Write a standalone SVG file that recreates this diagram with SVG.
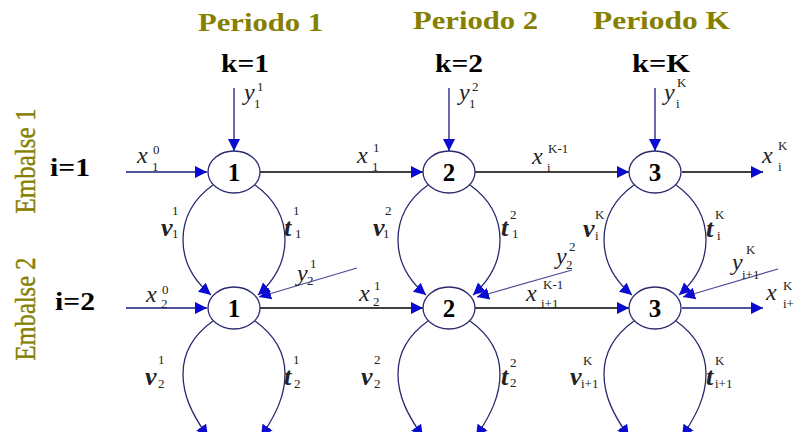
<svg xmlns="http://www.w3.org/2000/svg" width="798" height="432" viewBox="0 0 798 432">
<defs>
<marker id="ah" viewBox="0 0 10 10" refX="10" refY="5" markerUnits="userSpaceOnUse" markerWidth="12" markerHeight="15" orient="auto">
<path d="M0,0 L10,5 L0,10 z" fill="#0a0ad0"/>
</marker>
<style>
.title{font-family:"Liberation Serif",serif;font-weight:bold;font-size:26px;fill:#858000}
.emb{font-family:"Liberation Serif",serif;font-size:30px;fill:#858000;stroke:#858000;stroke-width:0.4}
.k{font-family:"Liberation Serif",serif;font-weight:bold;font-size:25px;fill:#000}
.nl{font-family:"Liberation Serif",serif;font-weight:bold;font-size:25px;fill:#000;text-anchor:middle}
.m{font-family:"Liberation Serif",serif;font-style:italic;font-size:24px;fill:#222}
.mb{font-family:"Liberation Serif",serif;font-style:italic;font-weight:bold;font-size:26px;fill:#222}
.s{font-family:"Liberation Serif",serif;font-style:normal;font-weight:normal;font-size:13px;fill:#222}
.node{fill:#fff;stroke:#2a2a70;stroke-width:1.3}
.loop{fill:none;stroke:#2a2a70;stroke-width:1.3;marker-end:url(#ah)}
.hb{fill:none;stroke:#000;stroke-width:1.3;marker-end:url(#ah)}
.hn{fill:none;stroke:#1a1a80;stroke-width:1.3;marker-end:url(#ah)}
.dg{fill:none;stroke:#4a4a98;stroke-width:1.2;marker-end:url(#ah)}
</style>
</defs>
<rect width="798" height="432" fill="#fff"/>

<g id="headers">
<text class="title" x="198" y="31" textLength="125" lengthAdjust="spacingAndGlyphs">Periodo 1</text>
<text class="title" x="413" y="29" textLength="125" lengthAdjust="spacingAndGlyphs">Periodo 2</text>
<text class="title" x="593" y="29" textLength="137" lengthAdjust="spacingAndGlyphs">Periodo K</text>
<text class="k" x="221" y="72" textLength="48" lengthAdjust="spacingAndGlyphs">k=1</text>
<text class="k" x="435" y="72" textLength="48" lengthAdjust="spacingAndGlyphs">k=2</text>
<text class="k" x="632" y="72" textLength="58" lengthAdjust="spacingAndGlyphs">k=K</text>
<text class="k" x="50" y="176" textLength="40" lengthAdjust="spacingAndGlyphs">i=1</text>
<text class="k" x="55" y="310" textLength="40" lengthAdjust="spacingAndGlyphs">i=2</text>
<text class="emb" transform="translate(35,161) rotate(-90)" text-anchor="middle" textLength="105" lengthAdjust="spacingAndGlyphs">Embalse 1</text>
<text class="emb" transform="translate(35,309) rotate(-90)" text-anchor="middle" textLength="103" lengthAdjust="spacingAndGlyphs">Embalse 2</text>
</g>

<g id="connectors">
<path class="hn" d="M234,88 L234,151"/>
<path class="hn" d="M449,88 L449,151"/>
<path class="hn" d="M655,88 L655,151"/>
<path class="hn" d="M126,172 L207,172"/>
<path class="hb" d="M260,172 L423,172"/>
<path class="hb" d="M475,172 L629,172"/>
<path class="hb" d="M682,172 L763,172"/>
<path class="hn" d="M126,308 L207,308"/>
<path class="hb" d="M260,308 L423,308"/>
<path class="hb" d="M475,308 L629,308"/>
<path class="hn" d="M682,308 L763,308"/>
<path class="dg" d="M357,268 L259,297"/>
<path class="dg" d="M572,270 L477,297"/>
<path class="dg" d="M778,269 L683,297"/>
<path class="loop" d="M213,185 C192,200 183,220 183,240 C183,262 192,279 211,295"/>
<path class="loop" d="M255,185 C276,200 285,220 285,240 C285,262 276,279 258,295"/>
<path class="loop" d="M213,321 C192,336 183,354 183,374 C183,396 192,414 208,437"/>
<path class="loop" d="M255,321 C276,336 285,354 285,374 C285,396 276,414 261,437"/>
<path class="loop" d="M428,185 C407,200 398,220 398,240 C398,262 407,279 426,295"/>
<path class="loop" d="M470,185 C491,200 500,220 500,240 C500,262 491,279 473,295"/>
<path class="loop" d="M428,321 C407,336 398,354 398,374 C398,396 407,414 423,437"/>
<path class="loop" d="M470,321 C491,336 500,354 500,374 C500,396 491,414 476,437"/>
<path class="loop" d="M634,185 C613,200 604,220 604,240 C604,262 613,279 632,295"/>
<path class="loop" d="M676,185 C697,200 706,220 706,240 C706,262 697,279 679,295"/>
<path class="loop" d="M634,321 C613,336 604,354 604,374 C604,396 613,414 629,437"/>
<path class="loop" d="M676,321 C697,336 706,354 706,374 C706,396 697,414 682,437"/>
</g>

<g id="node-1-1"><ellipse class="node" cx="234" cy="172" rx="26" ry="21"/><text class="nl" x="234" y="181">1</text></g>
<g id="node-1-2"><ellipse class="node" cx="449" cy="172" rx="26" ry="21"/><text class="nl" x="449" y="181">2</text></g>
<g id="node-1-3"><ellipse class="node" cx="655" cy="172" rx="26" ry="21"/><text class="nl" x="655" y="181">3</text></g>
<g id="node-2-1"><ellipse class="node" cx="234" cy="308" rx="26" ry="21"/><text class="nl" x="234" y="317">1</text></g>
<g id="node-2-2"><ellipse class="node" cx="449" cy="308" rx="26" ry="21"/><text class="nl" x="449" y="317">2</text></g>
<g id="node-2-3"><ellipse class="node" cx="655" cy="308" rx="26" ry="21"/><text class="nl" x="655" y="317">3</text></g>

<g id="labels">
<text class="m" x="244" y="100">y<tspan class="s" x="257" y="91">1</tspan><tspan class="s" x="254" y="108">1</tspan></text>
<text class="m" x="459" y="100">y<tspan class="s" x="472" y="91">2</tspan><tspan class="s" x="469" y="108">1</tspan></text>
<text class="m" x="664" y="100">y<tspan class="s" x="677" y="87">K</tspan><tspan class="s" x="676" y="108">i</tspan></text>

<text class="m" x="137" y="163">x<tspan class="s" x="153" y="154">0</tspan><tspan class="s" x="152" y="171">1</tspan></text>
<text class="m" x="357" y="163">x<tspan class="s" x="373" y="152">1</tspan><tspan class="s" x="372" y="171">1</tspan></text>
<text class="m" x="532" y="164">x<tspan class="s" x="548" y="153">K-1</tspan><tspan class="s" x="547" y="172">i</tspan></text>
<text class="m" x="762" y="163">x<tspan class="s" x="778" y="150">K</tspan><tspan class="s" x="778" y="171">i</tspan></text>

<text class="mb" x="161" y="236">v<tspan class="s" x="172" y="215">1</tspan><tspan class="s" x="172" y="238">1</tspan></text>
<text class="mb" x="284" y="236">t<tspan class="s" x="293" y="215">1</tspan><tspan class="s" x="295" y="238">1</tspan></text>
<text class="mb" x="373" y="236">v<tspan class="s" x="385" y="215">2</tspan><tspan class="s" x="383" y="238">1</tspan></text>
<text class="mb" x="501" y="236">t<tspan class="s" x="510" y="219">2</tspan><tspan class="s" x="512" y="238">1</tspan></text>
<text class="mb" x="583" y="237">v<tspan class="s" x="595" y="219">K</tspan><tspan class="s" x="595" y="240">i</tspan></text>
<text class="mb" x="706" y="237">t<tspan class="s" x="715" y="219">K</tspan><tspan class="s" x="717" y="240">i</tspan></text>

<text class="m" x="297" y="281">y<tspan class="s" x="310" y="268">1</tspan><tspan class="s" x="307" y="285">2</tspan></text>
<text class="m" x="556" y="264">y<tspan class="s" x="569" y="251">2</tspan><tspan class="s" x="566" y="269">2</tspan></text>
<text class="m" x="732" y="270">y<tspan class="s" x="746" y="254">K</tspan><tspan class="s" x="742" y="279">i+1</tspan></text>

<text class="m" x="146" y="302">x<tspan class="s" x="162" y="294">0</tspan><tspan class="s" x="161" y="308">2</tspan></text>
<text class="m" x="359" y="301">x<tspan class="s" x="374" y="290">1</tspan><tspan class="s" x="373" y="306">2</tspan></text>
<text class="m" x="526" y="301">x<tspan class="s" x="543" y="289">K-1</tspan><tspan class="s" x="541" y="308">i+1</tspan></text>
<text class="m" x="766" y="300">x<tspan class="s" x="783" y="290">K</tspan><tspan class="s" x="783" y="308">i+</tspan></text>

<text class="mb" x="145" y="385">v<tspan class="s" x="158" y="364">1</tspan><tspan class="s" x="158" y="388">2</tspan></text>
<text class="mb" x="284" y="385">t<tspan class="s" x="293" y="364">1</tspan><tspan class="s" x="294" y="388">2</tspan></text>
<text class="mb" x="361" y="385">v<tspan class="s" x="374" y="364">2</tspan><tspan class="s" x="374" y="388">2</tspan></text>
<text class="mb" x="501" y="385">t<tspan class="s" x="510" y="367">2</tspan><tspan class="s" x="510" y="387">2</tspan></text>
<text class="mb" x="570" y="385">v<tspan class="s" x="583" y="365">K</tspan><tspan class="s" x="581" y="388">i+1</tspan></text>
<text class="mb" x="706" y="385">t<tspan class="s" x="715" y="365">K</tspan><tspan class="s" x="715" y="388">i+1</tspan></text>
</g>
</svg>
